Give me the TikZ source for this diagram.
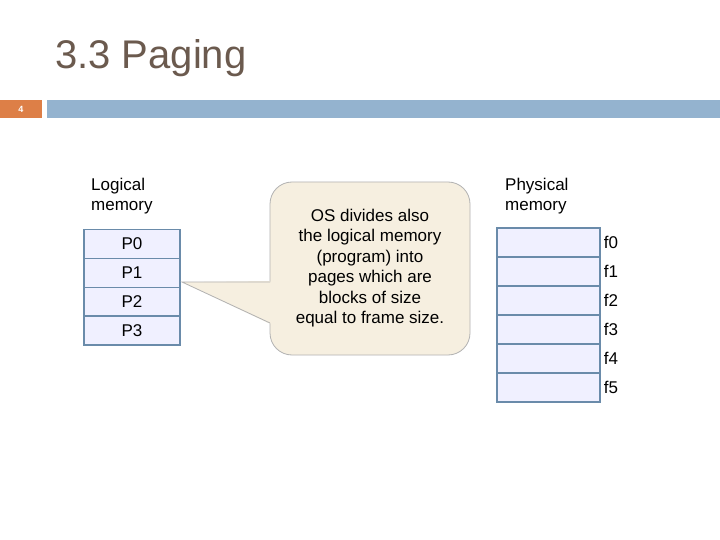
\documentclass[tikz,border=0pt]{standalone}
\usepackage{fontspec}
\setmainfont{Liberation Sans}
\begin{document}
\begin{tikzpicture}[x=1pt,y=-1pt,
  cell/.style={draw=black!30!blue!30!gray,line width=1.4pt,fill=blue!6!white,minimum width=96pt,minimum height=28.8pt,inner sep=0pt,font=\fontsize{17}{20}\selectfont},
  pcell/.style={cell,minimum width=103pt,minimum height=29pt},
  lab/.style={font=\fontsize{17}{20}\selectfont,anchor=west,inner sep=0pt}]
\definecolor{titlec}{HTML}{6B5A4E}
\definecolor{barblue}{HTML}{94B3CF}
\definecolor{barorange}{HTML}{DD7F47}
\definecolor{callfill}{HTML}{F6EFE0}
\definecolor{cellline}{HTML}{6A8BAA}
\tikzset{cell/.append style={draw=cellline}}
\useasboundingbox (0,0) rectangle (720,540);
\fill[white] (0,0) rectangle (720,540);
\node[anchor=west,text=titlec,font=\fontsize{40}{44}\selectfont,inner sep=0pt] (title) at (55,58) {3.3 Paging};
\fill[barorange] (0,100) rectangle (42,118);
\node[text=white,font=\fontsize{9}{10}\selectfont\bfseries] (num) at (21,109) {4};
\fill[barblue] (47,100) rectangle (720,118);
% logical
\node[font=\fontsize{17}{20}\selectfont,align=left,anchor=west,inner sep=0pt] (lm) at (91,196) {Logical\\memory};
\foreach \i/\t in {0/P0,1/P1,2/P2,3/P3}
  \node[cell] (p\i) at (132,{244+28.8*\i}) {\t};
% callout
\draw[gray!60,fill=callfill,line width=0.8pt,rounded corners=22pt]
  (270,282) -- (270,182) -- (470,182) -- (470,355) -- (270,355) -- (270,323);
\fill[callfill] (270.4,281) -- (182,282) -- (270.4,324) -- cycle;
\draw[gray!60,line width=0.8pt] (270,282) -- (182,282) -- (270,323);
\node[font=\fontsize{17}{20.5}\selectfont,align=center] (call) at (370,268)
  {OS divides also\\the logical memory\\(program) into\\pages which are\\blocks of size\\equal to frame size.};
% physical
\node[font=\fontsize{17}{20}\selectfont,align=left,anchor=west,inner sep=0pt] (pm) at (505,196) {Physical\\memory};
\foreach \i in {0,...,5}{
  \node[pcell] (f\i) at (548.5,{242.5+29*\i}) {};
  \node[lab] (fl\i) at ([xshift=3pt]f\i.east) {f\i};
}
\end{tikzpicture}
\end{document}
